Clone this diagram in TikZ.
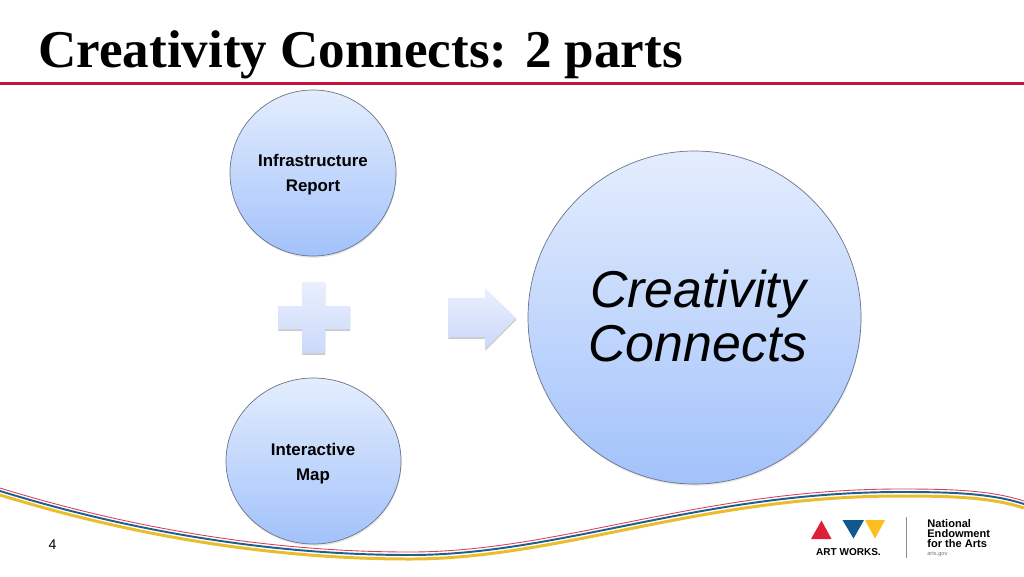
\documentclass[tikz,border=0pt]{standalone}
\usepackage{fontspec}
\setmainfont{Liberation Sans}
\newfontfamily\titlefont{Liberation Serif}
\usetikzlibrary{shapes.geometric,shadows}
\definecolor{ruleRed}{HTML}{C5133D}
\definecolor{ribRed}{HTML}{D8405F}
\definecolor{ribBlue}{HTML}{1F5F8B}
\definecolor{ribYellow}{HTML}{EBBC2E}
\definecolor{logoRed}{HTML}{DF1F37}
\definecolor{logoBlue}{HTML}{10598F}
\definecolor{logoYellow}{HTML}{FDBE1E}
\definecolor{bubbleTop}{HTML}{E4EDFD}
\definecolor{bubbleBot}{HTML}{A2C2FB}
\definecolor{bubbleLine}{HTML}{6B7488}
\definecolor{signTop}{HTML}{E9EFFD}
\definecolor{signBot}{HTML}{CBD9FA}
\tikzset{
  bubble/.style={ellipse,draw=bubbleLine,line width=.4pt,top color=bubbleTop,bottom color=bubbleBot,inner sep=0pt,
    drop shadow={shadow xshift=.3pt,shadow yshift=-1pt,opacity=.2}},
  smalltext/.style={inner sep=0pt,align=center,font=\bfseries\fontsize{9.6}{14.2}\selectfont},
  bigtext/.style={inner sep=0pt,align=center,font=\itshape\fontsize{29.5}{30.7}\selectfont},
  sign/.style={top color=signTop,bottom color=signBot,
    drop shadow={shadow xshift=.2pt,shadow yshift=-1pt,opacity=.4}},
  logotext/.style={inner sep=0pt,font=\bfseries\fontsize{6.3}{5.7}\selectfont,align=left,anchor=north west}
}
\newcommand{\ribbon}{(0,488) .. controls (130,528) and (270,552) .. (410,552)
  .. controls (560,552) and (700,489) .. (900,489) .. controls (950,489) and (990,490) .. (1024,501)}
\begin{document}
\begin{tikzpicture}[x=.02cm,y=-.02cm]
   \useasboundingbox (0,0) rectangle (1024,576);

   \node[anchor=base west,inner sep=0pt,font=\titlefont\bfseries\fontsize{30.2}{36}\selectfont] (title) at (38,67) {Creativity Connects: 2 parts};
   \coordinate (r1) at (0,83);
   \coordinate (r2) at (1024,83);
   \draw[ruleRed,line width=1.7pt] (r1) -- (r2);

   % ribbon
   \begin{scope}[yshift=-.14cm]
   \draw[ribYellow,line width=1.7pt] \ribbon;
   \end{scope}
   \begin{scope}[yshift=-.06cm]
   \draw[ribBlue,line width=1.1pt] \ribbon;
   \end{scope}
   \draw[ribRed,line width=.5pt] \ribbon;

   \node[bubble,minimum width=166*.02cm,minimum height=166*.02cm] (c1) at (313,173) {};
   \node[bubble,minimum width=175*.02cm,minimum height=166*.02cm] (c2) at (313.5,461) {};
   \node[bubble,minimum width=333*.02cm,minimum height=333*.02cm] (c3) at (694.5,317.5) {};
   \node[smalltext] (t1) at (313,174.5) {Infrastructure\\Report};
   \node[smalltext] (t2) at (313,464) {Interactive\\Map};
   \node[bigtext] (t3) at (698,316) {Creativity\\Connects};

   \path[sign] (302,282) -- (325,282) -- (325,306) -- (350,306) -- (350,329) -- (325,329) -- (325,353)
      -- (302,353) -- (302,329) -- (278,329) -- (278,306) -- (302,306) -- cycle;
   \path[sign] (448,298) -- (485,298) -- (485,288) -- (516,318) -- (485,349) -- (485,337) -- (448,337) -- cycle;

   \node[anchor=center,inner sep=0pt,font=\fontsize{8}{10}\selectfont] (pg) at (52.5,544.5) {4};

   % logo
   \fill[logoRed] (811,539) -- (831.5,539) -- (821.5,520.5) -- cycle;
   \fill[logoBlue] (842.5,520) -- (864,520) -- (853.5,538.5) -- cycle;
   \fill[logoYellow] (865,520) -- (885,520) -- (875,538.5) -- cycle;
   \node[inner sep=0pt,font=\bfseries\fontsize{5.7}{7}\selectfont] (art) at (848.5,552) {ART WORKS.};
   \coordinate (v1) at (906,517);
   \coordinate (v2) at (906,558);
   \draw[black!45,line width=.5pt] (v1) -- (v2);
   \node[logotext] (nea) at (927,519.5) {National\\Endowment\\for the Arts};
   \node[anchor=north west,inner sep=0pt,text=black!55,font=\fontsize{3.2}{4}\selectfont] (gov) at (927,551.5) {arts.gov};
\end{tikzpicture}
\end{document}
